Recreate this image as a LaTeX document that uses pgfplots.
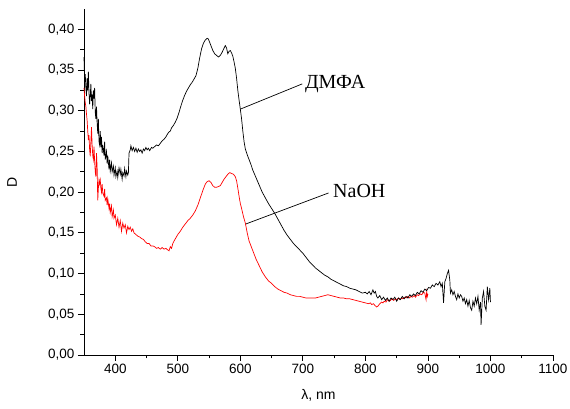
\documentclass[border=0pt]{standalone}
\usepackage{pgfplots}
\pgfplotsset{compat=1.18}
\usepackage{fontspec}
\setmainfont{Liberation Sans}
\newfontfamily\serifcyr{Liberation Serif}
\begin{document}
\begin{tikzpicture}[x=1pt,y=1pt]
\path[use as bounding box] (-84,-54) rectangle (486,355);
\begin{axis}[
  at={(0,0)}, anchor=south west,
  scale only axis, width=469pt, height=346pt,
  xmin=350, xmax=1100, ymin=0, ymax=0.425,
  axis x line=bottom, axis y line=left,
  axis line style={-, line width=0.9pt},
  xtick={400,500,...,1100},
  ytick={0,0.05,...,0.41},
  minor x tick num=1, minor y tick num=1,
  tick align=outside,
  major tick length=6pt, minor tick length=3.5pt,
  tick style={line width=0.8pt, black},
  tick label style={font=\fontsize{13.5}{15}\selectfont},
  /pgf/number format/assume math mode=true,
  yticklabel style={/pgf/number format/.cd, fixed, fixed zerofill, precision=2, use comma},
  xticklabel style={/pgf/number format/.cd, set thousands separator={}},
  xlabel={λ, nm},
  ylabel={D},
  label style={font=\fontsize{14}{16}\selectfont},
  xlabel style={at={(axis description cs:0.5,0)}, anchor=center, yshift=-40pt},
  ylabel style={at={(axis description cs:-0.1535,0.5)}, anchor=center},
  clip=false,
]
\addplot[red, line width=0.7pt] coordinates {
(350,0.328)(351,0.318)(352,0.310)(353,0.305)(354,0.296)(355,0.288)(356,0.275)(357,0.264)(358,0.270)(359,0.252)
(360,0.244)(361,0.262)(362,0.280)(363,0.258)(364,0.245)(365,0.240)(366,0.256)(367,0.238)(368,0.225)(369,0.219)
(370,0.248)(371,0.230)(372,0.190)(373,0.205)(374,0.215)(375,0.210)(376,0.215)(377,0.205)(378,0.200)(379,0.210)
(380,0.199)(382,0.195)(383,0.204)(384,0.190)(386,0.193)(387,0.184)(388,0.192)(390,0.180)(391,0.186)(392,0.175)
(394,0.183)(395,0.170)(397,0.178)(398,0.168)(400,0.172)(402,0.160)(404,0.168)(406,0.157)(408,0.165)(410,0.152)
(412,0.162)(414,0.156)(416,0.160)(418,0.150)(420,0.158)(422,0.154)(424,0.157)(426,0.152)(428,0.155)(430,0.150)
(433,0.148)(436,0.146)(439,0.145)(442,0.143)(445,0.142)(448,0.139)(451,0.137)(454,0.137)(457,0.134)(460,0.134)
(463,0.133)(466,0.131)(469,0.132)(472,0.130)(475,0.132)(478,0.130)(481,0.131)(484,0.129)(486,0.128)(488,0.133)
(490,0.131)(492,0.137)(494,0.140)(497,0.144)(500,0.148)(504,0.152)(508,0.157)(512,0.161)(516,0.165)(520,0.168)
(524,0.172)(528,0.177)(532,0.184)(536,0.193)(540,0.202)(544,0.210)(547,0.213)(550,0.214)(553,0.212)(556,0.208)
(559,0.206)(562,0.206)(565,0.207)(568,0.208)(571,0.212)(574,0.216)(577,0.219)(580,0.222)(583,0.224)(586,0.223)
(589,0.222)(592,0.219)(594,0.214)(596,0.205)(598,0.195)(600,0.186)(602,0.180)(605,0.170)(608,0.162)(611,0.150)
(614,0.140)(617,0.134)(620,0.128)(625,0.118)(630,0.110)(635,0.102)(640,0.096)(645,0.091)(650,0.088)(655,0.084)
(660,0.081)(665,0.079)(670,0.077)(675,0.076)(680,0.074)(685,0.073)(690,0.072)(695,0.072)(700,0.071)(705,0.070)
(710,0.070)(715,0.070)(720,0.070)(725,0.071)(730,0.072)(735,0.073)(740,0.074)(745,0.073)(750,0.072)(755,0.071)
(760,0.070)(765,0.070)(770,0.069)(775,0.069)(780,0.068)(785,0.067)(790,0.066)(795,0.065)(800,0.064)(805,0.063)
(808,0.064)(810,0.062)(813,0.063)(815,0.061)(818,0.059)(820,0.060)(823,0.063)(826,0.065)(828,0.064)(830,0.066)
(833,0.065)(835,0.068)(838,0.066)(840,0.067)(843,0.069)(845,0.067)(848,0.069)(850,0.068)(853,0.070)(855,0.068)
(858,0.070)(860,0.069)(863,0.071)(865,0.070)(868,0.072)(870,0.070)(873,0.072)(875,0.071)(878,0.073)(880,0.071)
(883,0.074)(885,0.073)(888,0.075)(890,0.074)(893,0.077)(895,0.076)(897,0.068)(898,0.078)(899,0.072)(900,0.075)
};
\addplot[black, line width=0.7pt] coordinates {
(350,0.366)(351,0.335)(352,0.345)(353,0.328)(354,0.318)(355,0.340)(356,0.325)(357,0.348)(358,0.322)(359,0.308)
(360,0.318)(361,0.333)(362,0.312)(363,0.320)(364,0.302)(365,0.325)(366,0.315)(367,0.328)(368,0.298)(369,0.290)
(370,0.305)(371,0.285)(372,0.272)(373,0.290)(374,0.262)(375,0.258)(376,0.275)(377,0.255)(378,0.268)(379,0.248)
(380,0.258)(382,0.245)(383,0.262)(384,0.240)(386,0.250)(387,0.235)(388,0.245)(390,0.228)(391,0.240)(392,0.226)
(394,0.236)(395,0.225)(397,0.232)(398,0.221)(400,0.230)(401,0.219)(403,0.226)(404,0.218)(406,0.230)(408,0.222)
(409,0.228)(411,0.216)(412,0.224)(414,0.220)(415,0.229)(417,0.219)(418,0.226)(420,0.221)(421,0.224)(422,0.248)
(424,0.252)(425,0.257)(427,0.251)(429,0.255)(431,0.250)(433,0.254)(435,0.249)(437,0.253)(439,0.250)(441,0.252)
(443,0.248)(445,0.253)(447,0.251)(449,0.255)(451,0.252)(453,0.254)(455,0.251)(458,0.255)(460,0.254)(463,0.256)
(466,0.258)(469,0.257)(472,0.260)(475,0.263)(478,0.265)(481,0.268)(484,0.272)(486,0.274)(488,0.275)(490,0.279)
(493,0.282)(496,0.286)(499,0.291)(502,0.298)(505,0.306)(508,0.313)(511,0.319)(514,0.324)(517,0.328)(520,0.332)
(523,0.335)(526,0.339)(529,0.343)(532,0.352)(535,0.365)(538,0.376)(541,0.383)(544,0.387)(547,0.389)(549,0.388)
(551,0.384)(553,0.380)(556,0.374)(559,0.370)(562,0.368)(565,0.366)(568,0.368)(571,0.372)(574,0.377)(576,0.380)
(578,0.377)(580,0.370)(582,0.373)(584,0.374)(586,0.371)(588,0.367)(590,0.360)(592,0.352)(594,0.340)(596,0.325)
(598,0.313)(600,0.302)(602,0.290)(604,0.275)(606,0.262)(608,0.253)(611,0.246)(614,0.240)(617,0.234)(620,0.227)
(625,0.218)(630,0.209)(635,0.200)(640,0.193)(645,0.186)(650,0.180)(655,0.174)(660,0.167)(665,0.160)(670,0.153)
(675,0.147)(680,0.142)(685,0.137)(690,0.133)(695,0.129)(700,0.125)(705,0.120)(710,0.115)(715,0.111)(720,0.107)
(725,0.104)(730,0.101)(735,0.098)(740,0.096)(745,0.093)(750,0.091)(755,0.089)(760,0.087)(765,0.085)(770,0.084)
(775,0.082)(780,0.081)(785,0.080)(790,0.078)(795,0.076)(800,0.077)(803,0.075)(806,0.078)(809,0.074)(812,0.080)
(814,0.076)(816,0.078)(818,0.072)(820,0.070)(823,0.073)(826,0.068)(829,0.071)(832,0.067)(835,0.070)(838,0.066)
(841,0.070)(844,0.068)(847,0.071)(850,0.066)(853,0.070)(856,0.068)(859,0.072)(862,0.069)(865,0.072)(868,0.070)
(871,0.074)(874,0.072)(877,0.075)(880,0.073)(883,0.077)(886,0.075)(889,0.079)(892,0.077)(895,0.081)(898,0.079)
(901,0.083)(904,0.082)(907,0.086)(910,0.084)(913,0.088)(916,0.086)(919,0.090)(921,0.084)(923,0.088)(925,0.064)
(927,0.090)(929,0.094)(931,0.100)(933,0.104)(934,0.098)(935,0.092)(936,0.076)(938,0.080)(940,0.074)(942,0.078)
(944,0.072)(946,0.068)(948,0.075)(950,0.070)(952,0.074)(954,0.072)(956,0.066)(958,0.070)(960,0.063)(962,0.068)
(964,0.060)(966,0.067)(968,0.058)(970,0.055)(972,0.066)(974,0.060)(976,0.070)(978,0.063)(980,0.072)(982,0.055)
(984,0.065)(985,0.037)(987,0.070)(989,0.078)(991,0.060)(993,0.055)(995,0.084)(997,0.068)(999,0.082)(1000,0.065)
};
\draw[black, line width=0.7pt] (axis cs:600,0.302) -- (axis cs:699,0.333);
\node[anchor=west, inner sep=2pt, font=\serifcyr\fontsize{20}{22}\selectfont] at (axis cs:700,0.333) {ДМФА};
\draw[black, line width=0.7pt] (axis cs:609,0.161) -- (axis cs:741,0.199);
\node[anchor=west, inner sep=2pt, font=\serifcyr\fontsize{20}{22}\selectfont] at (axis cs:745,0.201) {NaOH};
\end{axis}
\end{tikzpicture}
\end{document}
